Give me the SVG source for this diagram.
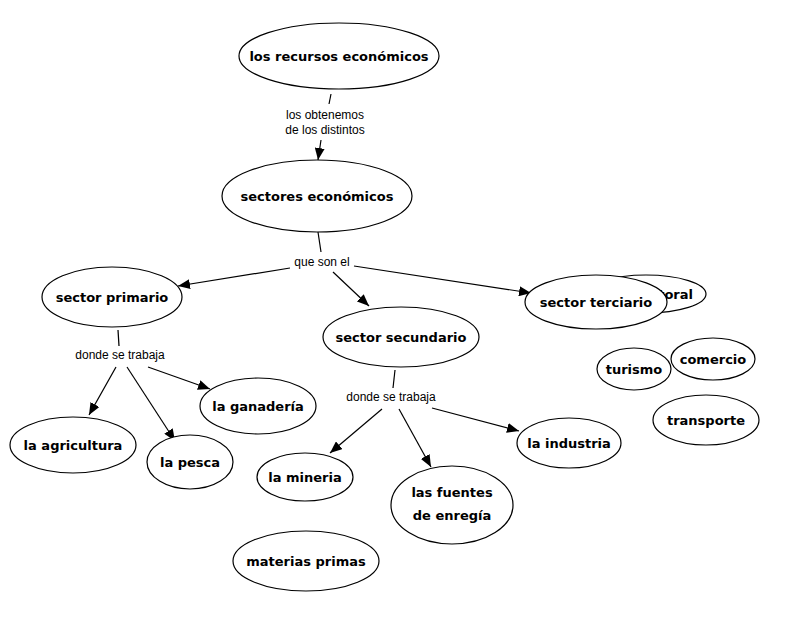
<svg xmlns="http://www.w3.org/2000/svg" width="799" height="633" viewBox="0 0 799 633">
<style>
.n ellipse{fill:#fff;stroke:#000;stroke-width:1.2}
.n text{font-family:"DejaVu Sans",sans-serif;font-weight:bold;font-size:13px;fill:#000;text-anchor:middle}
.l{font-family:"Liberation Sans",Arial,sans-serif;font-size:12px;fill:#000;text-anchor:middle}
.c line{stroke:#000;stroke-width:1.2}
.c line.a{marker-end:url(#ah)}
</style>
<defs>
<marker id="ah" viewBox="0 0 12 10" refX="12" refY="5" markerWidth="12" markerHeight="10" markerUnits="userSpaceOnUse" orient="auto">
<path d="M0,0 L12,5 L0,10 z" fill="#000"/>
</marker>
</defs>
<rect width="799" height="633" fill="#fff"/>
<g class="c" id="connectors">
<line x1="331" y1="94" x2="329" y2="104"/>
<line class="a" x1="321" y1="140" x2="318" y2="160"/>
<line x1="318" y1="232" x2="321" y2="252"/>
<line class="a" x1="290" y1="268" x2="178" y2="286"/>
<line class="a" x1="333" y1="272" x2="369" y2="306"/>
<line class="a" x1="354" y1="266" x2="531" y2="293"/>
<line x1="118" y1="330" x2="119" y2="346"/>
<line class="a" x1="116" y1="367" x2="89" y2="415"/>
<line class="a" x1="127" y1="367" x2="175" y2="441"/>
<line class="a" x1="148" y1="367" x2="210" y2="389"/>
<line x1="395" y1="370" x2="393" y2="388"/>
<line class="a" x1="382" y1="409" x2="330" y2="453"/>
<line class="a" x1="399" y1="409" x2="431" y2="467"/>
<line class="a" x1="432" y1="408" x2="519" y2="431"/>
</g>
<text class="l" x="325" y="119">los obtenemos</text>
<text class="l" x="325" y="134">de los distintos</text>
<text class="l" x="322" y="266">que son el</text>
<text class="l" x="120" y="359">donde se trabaja</text>
<text class="l" x="391" y="401">donde se trabaja</text>
<g class="n" id="n-recursos"><ellipse cx="339" cy="56" rx="100" ry="33"/><text x="339" y="61">los recursos económicos</text></g>
<g class="n" id="n-sectores"><ellipse cx="317" cy="196" rx="95" ry="36"/><text x="317" y="201">sectores económicos</text></g>
<g class="n" id="n-primario"><ellipse cx="112" cy="297" rx="70" ry="30"/><text x="112" y="302">sector primario</text></g>
<g class="n" id="n-secundario"><ellipse cx="401" cy="337" rx="78" ry="30"/><text x="401" y="342">sector secundario</text></g>
<g class="n" id="n-toral"><ellipse cx="646" cy="294" rx="60" ry="19"/><text x="693" y="299" style="text-anchor:end">toral</text></g>
<g class="n" id="n-terciario"><ellipse cx="596" cy="302" rx="71" ry="27"/><text x="596" y="307">sector terciario</text></g>
<g class="n" id="n-ganaderia"><ellipse cx="258" cy="406" rx="58" ry="28"/><text x="258" y="411">la ganadería</text></g>
<g class="n" id="n-agricultura"><ellipse cx="73" cy="445" rx="63" ry="28"/><text x="73" y="450">la agricultura</text></g>
<g class="n" id="n-pesca"><ellipse cx="190" cy="462" rx="43" ry="27"/><text x="190" y="467">la pesca</text></g>
<g class="n" id="n-industria"><ellipse cx="569" cy="443" rx="52" ry="25"/><text x="569" y="448">la industria</text></g>
<g class="n" id="n-mineria"><ellipse cx="305" cy="477" rx="48" ry="24"/><text x="305" y="482">la mineria</text></g>
<g class="n" id="n-fuentes"><ellipse cx="452" cy="505" rx="61" ry="39"/><text x="452" y="497">las fuentes</text><text x="452" y="520">de enregía</text></g>
<g class="n" id="n-materias"><ellipse cx="306" cy="561" rx="73" ry="30"/><text x="306" y="566">materias primas</text></g>
<g class="n" id="n-turismo"><ellipse cx="634" cy="369" rx="37" ry="21"/><text x="634" y="374">turismo</text></g>
<g class="n" id="n-comercio"><ellipse cx="713" cy="359" rx="42" ry="21"/><text x="713" y="364">comercio</text></g>
<g class="n" id="n-transporte"><ellipse cx="706" cy="420" rx="53" ry="25"/><text x="706" y="425">transporte</text></g>
</svg>
